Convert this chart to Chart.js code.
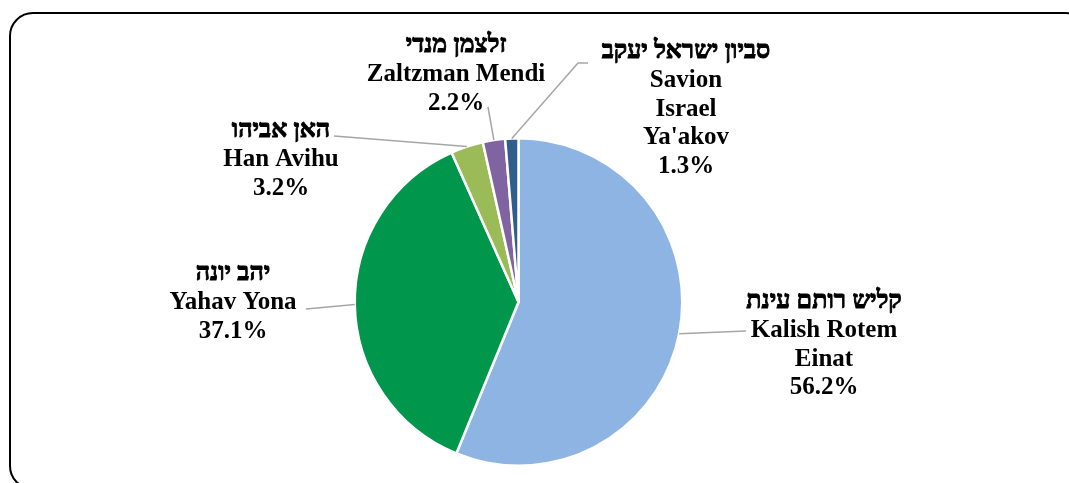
<!DOCTYPE html>
<html>
<head>
<meta charset="utf-8">
<script src="https://cdn.jsdelivr.net/npm/chart.js@4/dist/chart.umd.min.js"></script>
<style>
  html, body { margin: 0; padding: 0; background: #fff; overflow: hidden; }
  #wrap { position: relative; width: 1069px; height: 483px; overflow: hidden; }
  #frame { position: absolute; left: 9px; top: 12px; width: 1081px; height: 478px; box-sizing: border-box;
           border: 2px solid #000; border-radius: 24px; pointer-events: none; }
  canvas { position: absolute; left: 0; top: 0; }
</style>
</head>
<body>
<div id="wrap">
  <canvas id="c" width="1069" height="483"></canvas>
  <div id="frame"></div>
</div>
<script>
// ---- data ----
const hebrewNames = ["קליש רותם עינת", "יהב יונה", "האן אביהו", "זלצמן מנדי", "סביון ישראל יעקב"];
const englishNames = [["Kalish Rotem", "Einat"], ["Yahav Yona"], ["Han Avihu"], ["Zaltzman Mendi"], ["Savion", "Israel", "Ya'akov"]];
const shares = [56.2, 37.1, 3.2, 2.2, 1.3];
const sliceColors = ["#8EB4E3", "#00964B", "#9BBB59", "#8064A2", "#2F5E8E"];

// ---- label layout (positions only; y = baseline of first line) ----
const labelLayout = [
  { x: 824, y: 308, leader: [[746, 331]] },
  { x: 233, y: 280, leader: [[306, 309]] },
  { x: 281, y: 137, leader: [[334, 136]] },
  { x: 456, y: 52,  leader: [[488, 107]] },
  { x: 686, y: 58,  leader: [[578, 63], [588, 63]] }
];

const labelPlugin = {
  id: 'calloutLabels',
  afterDatasetsDraw(chart) {
    const ctx = chart.ctx;
    const meta = chart.getDatasetMeta(0);
    ctx.save();
    // leader lines
    ctx.strokeStyle = '#A6A6A6';
    ctx.lineWidth = 1.5;
    meta.data.forEach((arc, i) => {
      const p = arc.getProps(['x', 'y', 'startAngle', 'endAngle', 'outerRadius'], true);
      const mid = (p.startAngle + p.endAngle) / 2;
      const ax = p.x + Math.cos(mid) * p.outerRadius;
      const ay = p.y + Math.sin(mid) * p.outerRadius;
      ctx.beginPath();
      ctx.moveTo(ax, ay);
      labelLayout[i].leader.forEach(pt => ctx.lineTo(pt[0], pt[1]));
      ctx.stroke();
    });
    // texts
    ctx.fillStyle = '#000';
    ctx.strokeStyle = '#000';
    ctx.font = 'bold 25px "Liberation Serif", "Times New Roman", serif';
    ctx.textAlign = 'center';
    ctx.textBaseline = 'alphabetic';
    const lh = 28.8;
    meta.data.forEach((arc, i) => {
      const L = labelLayout[i];
      // Hebrew line, slightly emboldened
      ctx.lineWidth = 0.9;
      ctx.fillText(hebrewNames[i], L.x, L.y);
      ctx.strokeText(hebrewNames[i], L.x, L.y);
      const lines = [...englishNames[i], shares[i].toFixed(1) + '%'];
      lines.forEach((t, k) => ctx.fillText(t, L.x, L.y + (k + 1) * lh));
    });
    ctx.restore();
  }
};

new Chart(document.getElementById('c'), {
  type: 'pie',
  data: {
    labels: englishNames.map(n => n.join(' ')),
    datasets: [{
      data: shares,
      backgroundColor: sliceColors,
      borderColor: '#FFFFFF',
      borderWidth: 2.5
    }]
  },
  options: {
    responsive: false,
    devicePixelRatio: 1,
    animation: false,
    layout: { padding: { top: 137, bottom: 16, left: 0, right: 32 } },
    plugins: { legend: { display: false }, tooltip: { enabled: false } }
  },
  plugins: [labelPlugin]
});
</script>
</body>
</html>
